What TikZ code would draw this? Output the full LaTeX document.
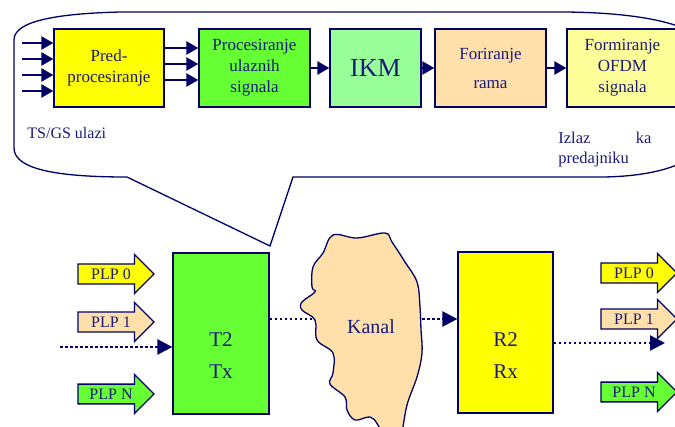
\documentclass[tikz,border=0pt]{standalone}
\usepackage{fontspec}
\setmainfont{Liberation Serif}
\usetikzlibrary{shapes.arrows,arrows.meta,positioning}
\definecolor{navy}{RGB}{0,0,102}
\definecolor{tekst}{RGB}{26,26,122}
\definecolor{zuta}{RGB}{255,255,0}
\definecolor{zelena}{RGB}{102,255,51}
\definecolor{svzelena}{RGB}{153,255,153}
\definecolor{breskva}{RGB}{255,224,170}
\definecolor{svzuta}{RGB}{255,255,153}

\begin{document}
\begin{tikzpicture}[x=1pt, y=-1pt, thick,
    blok/.style = {draw=navy, line width=1.3pt, text=tekst, align=center, minimum height=78pt, inner sep=1pt, font=\fontsize{17}{21}\selectfont},
    veliki/.style = {draw=navy, line width=1.3pt, minimum width=96pt, minimum height=161pt},
    natpis/.style = {text=tekst, align=center, inner sep=0pt},
    plp/.style = {single arrow, draw=navy, line width=1.3pt, text=tekst, minimum height=76pt, minimum width=38pt, single arrow head extend=9.5pt, inner xsep=1pt, inner ysep=4pt, font=\fontsize{16}{16}\selectfont},
    tok/.style = {navy, line width=2.5pt, -{Triangle[length=12pt, width=13pt]}},
    tacke/.style = {navy, line width=2.5pt, dash pattern=on 2.5pt off 2.5pt, -{Triangle[length=15pt, width=15pt]}}]
    \useasboundingbox (0,0) rectangle (675,426);
    \clip (0,0) rectangle (675,426);

    % oblacic
    \draw[navy, line width=1.3pt] (127,177) -- (270,246) -- (293,177) -- (600,177)
        .. controls (650,177) and (700,165) .. (700,140) -- (700,45)
        .. controls (700,25) and (640,12) .. (560,12) -- (120,12)
        .. controls (40,14) and (14,25) .. (14,40) -- (14,148)
        .. controls (14,170) and (60,177) .. (127,177);

    \node[blok, fill=zuta, minimum width=110pt] (pred) at (109,68) {Pred-\\procesiranje};
    \node[blok, fill=zelena, minimum width=111pt] (proc) at (254.5,68) {Procesiranje\\ulaznih\\signala};
    \node[blok, fill=svzelena, minimum width=91pt, font=\fontsize{26}{26}\selectfont] (ikm) at (375.5,68) {IKM};
    \node[blok, fill=breskva, minimum width=111pt, font=\fontsize{17}{29}\selectfont] (rama) at (490.5,68) {Foriranje\\rama};
    \node[blok, fill=svzuta, minimum width=111pt] (ofdm) at (622.5,68) {Formiranje\\OFDM\\signala};

    \foreach \i/\y in {1/43, 2/59, 3/75, 4/91} {
        \coordinate (ulaz\i) at (22,\y);
        \draw[tok] (ulaz\i) -- (pred.west |- ulaz\i);
    }
    \foreach \y in {48, 64, 80}
        \draw[tok] (pred.east |- 0,\y) -- (proc.west |- 0,\y);
    \draw[tok] (proc) -- (ikm);
    \draw[tok] (ikm) -- (rama);
    \draw[tok] (rama) -- (ofdm);

    \node[natpis, anchor=base west, font=\fontsize{16}{20}\selectfont] (ulazi) at (27,138) {TS/GS ulazi};
    \node[natpis, anchor=base west, align=left, text width=93pt, font=\fontsize{16.5}{20}\selectfont] (izlaz) at (558,143) {Izlaz \hfill ka\\predajniku};

    % T2 Tx
    \node[veliki, fill=zelena] (tx) at (221,333.5) {};
    \node[natpis, font=\fontsize{21}{32}\selectfont, anchor=base] (txnatpis) at (221,378) {T2\\Tx};

    \node[plp, fill=zuta] (ul0) at (111,274) {PLP 0};
    \node[plp, fill=breskva] (ul1) at (111,322) {PLP 1};
    \node[plp, fill=zelena] (ulN) at (111,394) {PLP N};

    \coordinate (pocetak) at (60,347);
    \draw[tacke] (pocetak) -- (tx.west |- pocetak);

    \coordinate (kl) at (315,319);
    \coordinate (kd) at (422,319);
    \draw[tacke, -] (tx.east |- kl) -- (kl);

    % kanal
    \draw[navy, line width=1.3pt, fill=breskva] plot[smooth cycle, tension=0.6] coordinates {
        (333,235) (357,238) (385,233) (392,242) (405,262) (417,282) (420,307) (421,330)
        (422,353) (417,377) (407,405) (400,440) (390,448) (378,425) (370,417) (355,420)
        (347,410) (345,397) (330,384) (333,373) (333,353) (317,340) (315,320) (302,310)
        (302,302) (315,292) (312,287) (313,267) (323,253)};
    \node[natpis, font=\fontsize{20}{20}\selectfont, anchor=base] (kanal) at (371,333) {Kanal};

    % R2 Rx
    \node[veliki, fill=zuta, minimum width=95pt] (rx) at (505.5,332.5) {};
    \node[natpis, font=\fontsize{21}{32}\selectfont, anchor=base] (rxnatpis) at (505.5,378) {R2\\Rx};
    \draw[tacke] (kd) -- (rx.west |- kd);

    \node[plp, fill=zuta] (iz0) at (634,273) {PLP 0};
    \node[plp, fill=breskva] (iz1) at (634,319) {PLP 1};
    \node[plp, fill=zelena] (izN) at (634,392) {PLP N};

    \coordinate (kraj) at (665,343);
    \draw[tacke] (rx.east |- kraj) -- (kraj);
\end{tikzpicture}
\end{document}
